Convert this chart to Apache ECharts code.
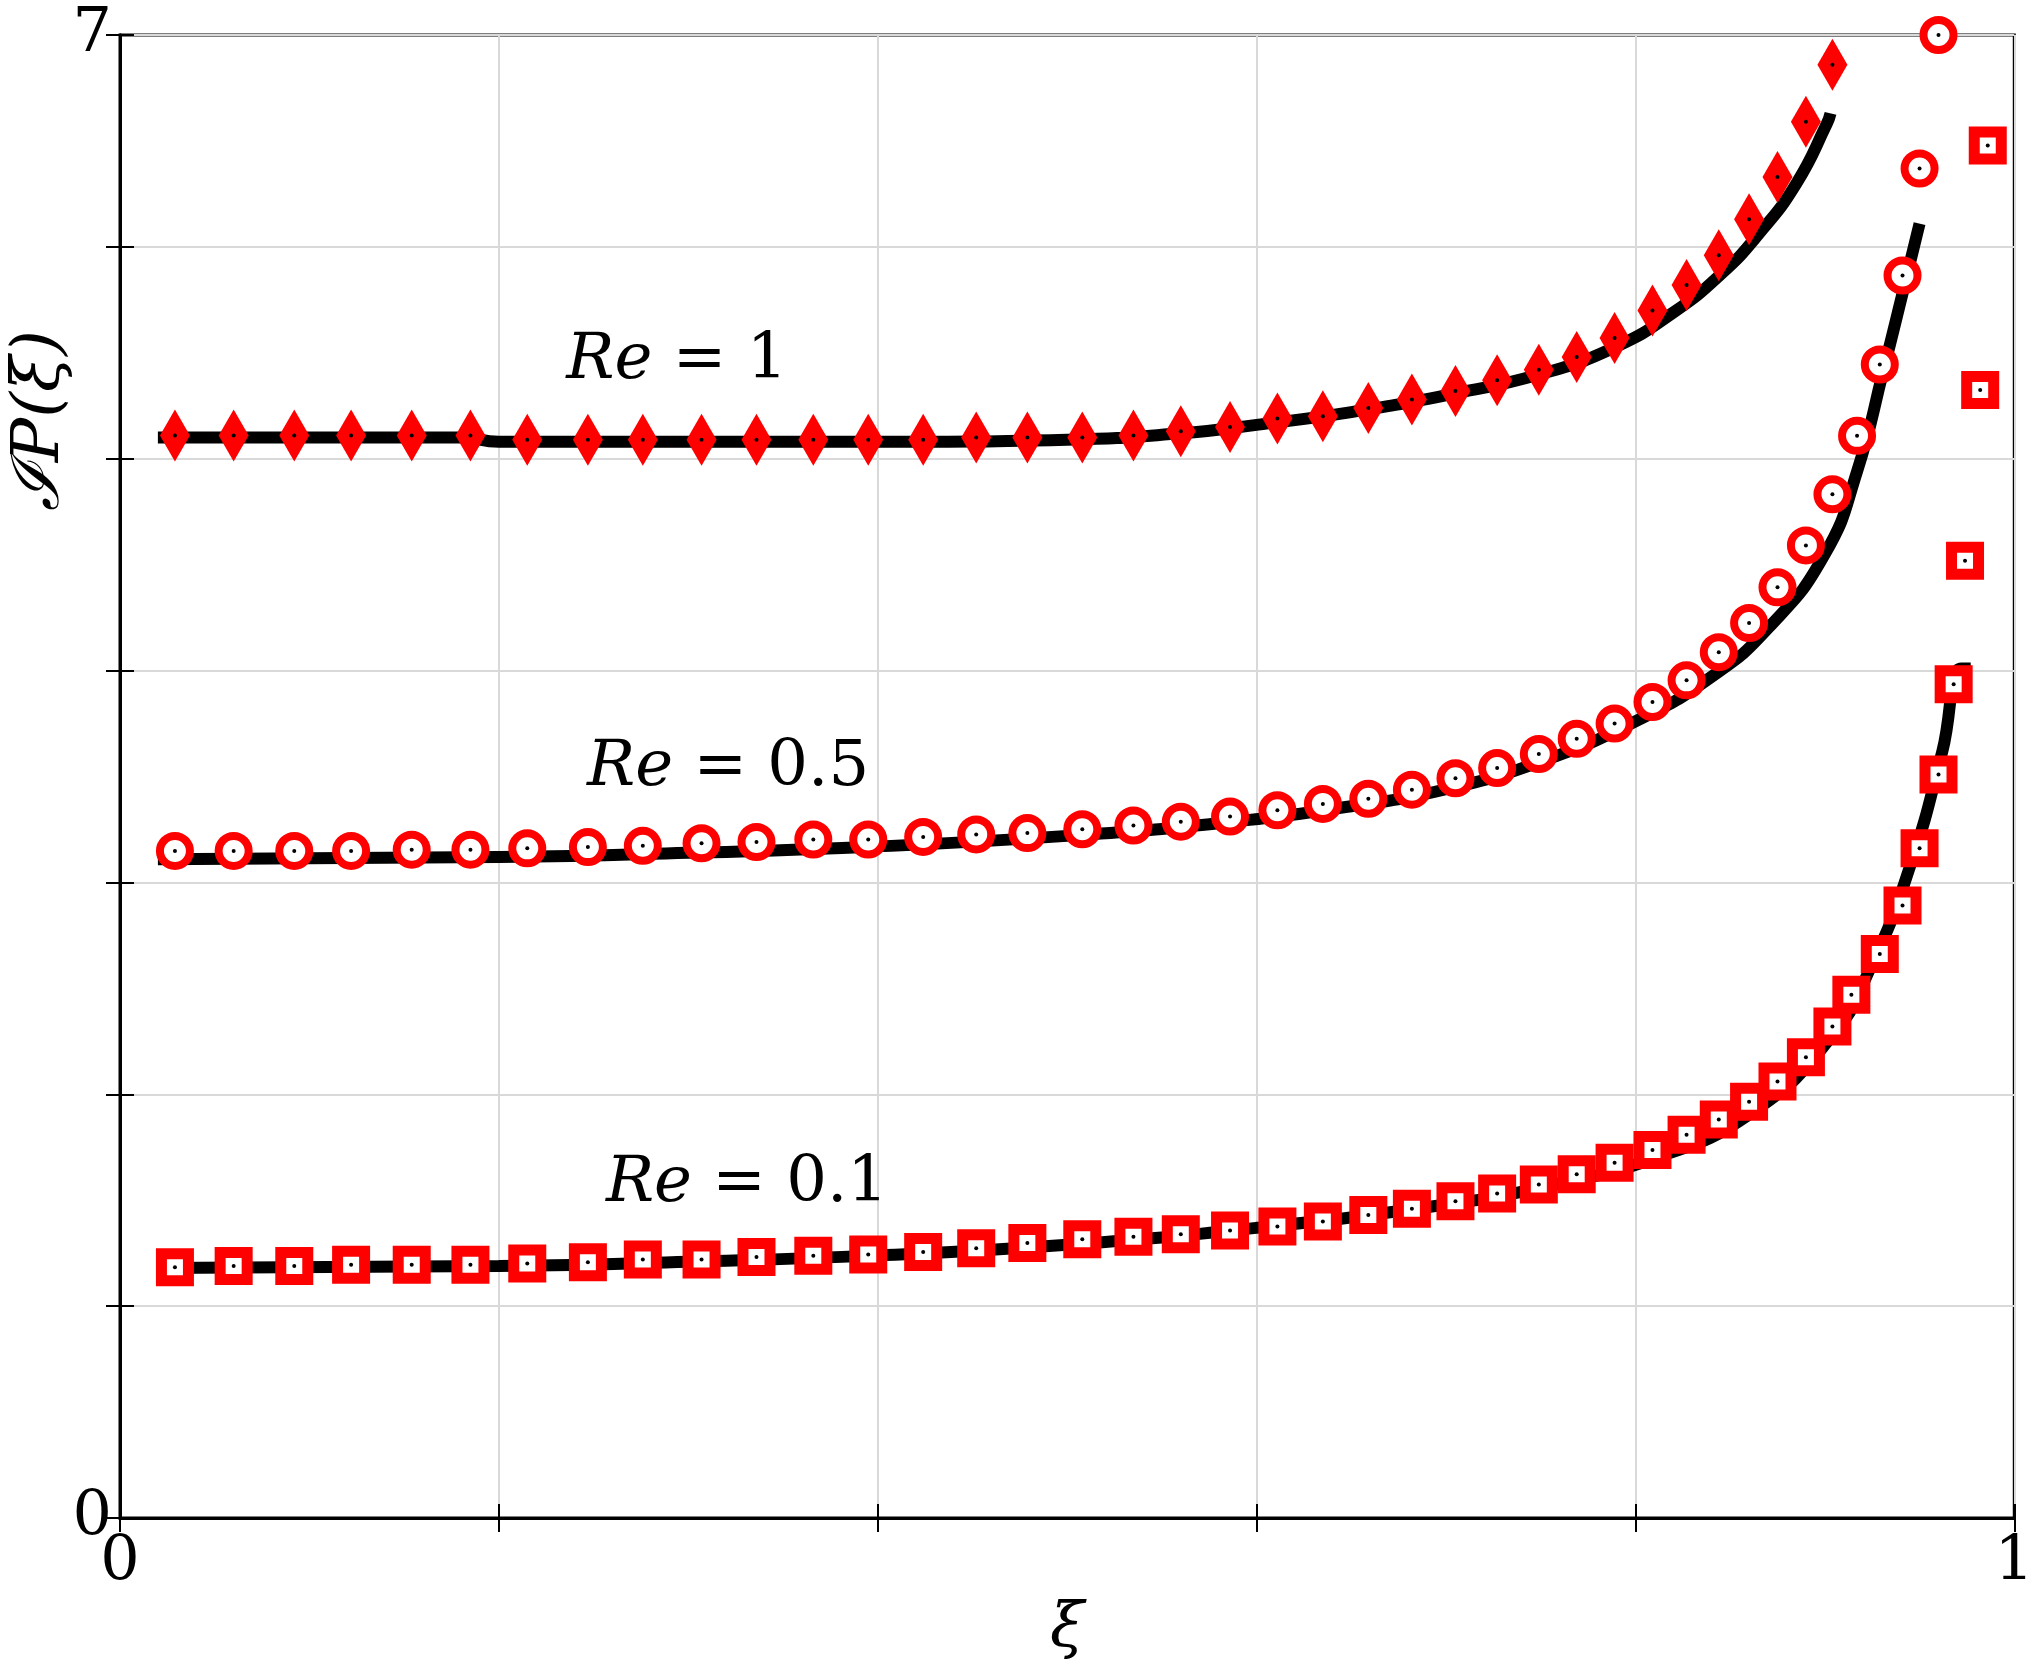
<!DOCTYPE html>
<html>
<head>
<meta charset="utf-8">
<script src="https://cdn.jsdelivr.net/npm/echarts@6/dist/echarts.min.js"></script>
<style>
html, body { margin: 0; padding: 0; background: #fff; }
#grafica { width: 2037px; height: 1666px; }
</style>
</head>
<body>
<div id="grafica"></div>
<script>
// posiciones xi de los marcadores
var xiMarcas = [0.029, 0.060, 0.092, 0.122, 0.154, 0.185, 0.215, 0.247, 0.276, 0.307,
    0.336, 0.366, 0.395, 0.424, 0.452, 0.479, 0.508, 0.535, 0.560, 0.586,
    0.611, 0.635, 0.659, 0.682, 0.705, 0.727, 0.749, 0.769, 0.789, 0.809,
    0.827, 0.844, 0.860, 0.875, 0.890, 0.904];
var xiExtra05 = [0.917, 0.929, 0.941, 0.950, 0.960];
var xiExtra01 = [0.914, 0.929, 0.941, 0.950, 0.960, 0.968, 0.974, 0.982, 0.986];

// valores de los marcadores
var re1Marcas = [5.11, 5.11, 5.11, 5.11, 5.11, 5.11, 5.09, 5.09, 5.09, 5.09,
    5.09, 5.09, 5.09, 5.09, 5.10, 5.10, 5.10, 5.11, 5.13, 5.15,
    5.19, 5.20, 5.24, 5.28, 5.32, 5.37, 5.42, 5.48, 5.57, 5.70,
    5.82, 5.96, 6.13, 6.33, 6.59, 6.86];
var re05Marcas = [3.149, 3.149, 3.149, 3.149, 3.155, 3.155, 3.161, 3.167, 3.173, 3.185,
    3.191, 3.203, 3.203, 3.215, 3.227, 3.233, 3.251, 3.269, 3.287, 3.311,
    3.341, 3.371, 3.395, 3.438, 3.492, 3.540, 3.606, 3.678, 3.750, 3.852,
    3.954, 4.087, 4.225, 4.393, 4.591, 4.832, 5.108, 5.445, 5.865, 6.370, 7.0];
var re01Marcas = [1.184, 1.190, 1.190, 1.196, 1.196, 1.196, 1.202, 1.208, 1.220, 1.220,
    1.232, 1.238, 1.244, 1.256, 1.274, 1.298, 1.316, 1.328, 1.340, 1.358,
    1.376, 1.400, 1.430, 1.460, 1.496, 1.532, 1.575, 1.623, 1.677, 1.737,
    1.809, 1.881, 1.965, 2.061, 2.175, 2.320, 2.470, 2.662, 2.891, 3.161,
    3.510, 3.936, 4.519, 5.325, 6.478];

// curvas continuas (xi, valor)
var re1Linea = [[0.02, 5.10], [0.18, 5.10], [0.20, 5.08], [0.40, 5.08], [0.50, 5.09], [0.56, 5.12],
    [0.60, 5.16], [0.65, 5.22], [0.70, 5.30], [0.75, 5.40], [0.79, 5.53], [0.82, 5.69],
    [0.845, 5.87], [0.865, 6.06], [0.885, 6.30], [0.901, 6.58], [0.903, 6.63]];
var re05Linea = [[0.02, 3.11], [0.20, 3.12], [0.30, 3.14], [0.40, 3.17], [0.50, 3.22], [0.58, 3.28],
    [0.65, 3.36], [0.70, 3.44], [0.75, 3.57], [0.80, 3.76], [0.84, 3.97], [0.87, 4.20],
    [0.90, 4.55], [0.917, 4.94], [0.931, 5.42], [0.941, 5.78], [0.950, 6.11]];
var re01Linea = [[0.02, 1.18], [0.20, 1.19], [0.30, 1.21], [0.40, 1.24], [0.50, 1.29], [0.60, 1.37],
    [0.70, 1.48], [0.75, 1.56], [0.809, 1.695], [0.86, 1.905], [0.903, 2.266], [0.924, 2.596],
    [0.945, 3.077], [0.962, 3.618], [0.972, 4.01], [0.977, 4.01]];

var etiquetas = [
    { texto: '1', x: 0.294, y: 5.46 },
    { texto: '0.5', x: 0.321, y: 3.54 },
    { texto: '0.1', x: 0.331, y: 1.575 }
];

function pares(xs, ys) {
    var r = [];
    ys.forEach(function (v, i) { r.push([xs[i], v]); });
    return r;
}

var datosRe1 = pares(xiMarcas, re1Marcas);
var datosRe05 = pares(xiMarcas.concat(xiExtra05), re05Marcas);
var datosRe01 = pares(xiMarcas.concat(xiExtra01), re01Marcas);

var fuente = 'DejaVu Serif';
var grafico = echarts.init(document.getElementById('grafica'));

function linea(datos) {
    return { type: 'line', data: datos, smooth: true, symbol: 'none', z: 2,
        lineStyle: { color: '#000', width: 12 } };
}
function puntos(datos) {
    return { type: 'scatter', data: datos, symbol: 'circle', symbolSize: 4, z: 5,
        itemStyle: { color: '#000', opacity: 1 } };
}

var option = {
    animation: false,
    backgroundColor: '#fff',
    grid: { left: 120, right: 21, top: 35, bottom: 106, show: true, borderColor: '#000', borderWidth: 3 },
    xAxis: [
        { type: 'value', min: 0, max: 1, interval: 0.2,
          axisLine: { show: true, lineStyle: { color: '#000', width: 3 } },
          axisTick: { inside: true, length: 14, lineStyle: { color: '#000', width: 2 } },
          splitLine: { lineStyle: { color: '#d9d9d9', width: 2 } },
          axisLabel: { fontFamily: fuente, fontSize: 62, color: '#000', margin: 14,
              formatter: function (v) { return (v === 0 || v === 1) ? String(v) : ''; } },
          name: 'ξ', nameLocation: 'middle', nameGap: 55,
          nameTextStyle: { fontFamily: fuente, fontSize: 62, fontStyle: 'italic', color: '#000' } },
        { type: 'value', position: 'top', min: 0, max: 1, interval: 0.2,
          axisLine: { show: true, lineStyle: { color: '#000', width: 3 } },
          axisTick: { inside: true, length: 14, lineStyle: { color: '#000', width: 2 } },
          axisLabel: { show: false }, splitLine: { show: false } }
    ],
    yAxis: [
        { type: 'value', min: 0, max: 7, interval: 1,
          axisLine: { show: true, lineStyle: { color: '#000', width: 3 } },
          axisTick: { inside: true, length: 14, lineStyle: { color: '#000', width: 2 } },
          splitLine: { lineStyle: { color: '#d9d9d9', width: 2 } },
          axisLabel: { fontFamily: fuente, fontSize: 62, color: '#000', margin: 8,
              formatter: function (v) { return (v === 0 || v === 7) ? String(v) : ''; } } },
        { type: 'value', position: 'right', min: 0, max: 7, interval: 1,
          axisLine: { show: true, lineStyle: { color: '#000', width: 3 } },
          axisTick: { inside: true, length: 14, lineStyle: { color: '#000', width: 2 } },
          axisLabel: { show: false }, splitLine: { show: false } }
    ],
    graphic: [{
        type: 'text', left: 8, top: 330, rotation: Math.PI / 2,
        style: { text: 'ℐP(ξ)', fontFamily: fuente, fontSize: 66, fontStyle: 'italic', fill: '#000' }
    }],
    series: [
        linea(re1Linea), linea(re05Linea), linea(re01Linea),
        { type: 'scatter', data: datosRe1, symbol: 'diamond', symbolSize: [30, 52], z: 4,
          itemStyle: { color: '#ff0000', opacity: 1 } },
        { type: 'scatter', data: datosRe05, symbol: 'circle', symbolSize: 30, z: 4,
          itemStyle: { color: '#fff', borderColor: '#ff0000', borderWidth: 8, opacity: 1 } },
        { type: 'scatter', data: datosRe01, symbol: 'rect', symbolSize: 27, z: 4,
          itemStyle: { color: '#fff', borderColor: '#ff0000', borderWidth: 11, opacity: 1 } },
        puntos(datosRe1), puntos(datosRe05), puntos(datosRe01),
        { type: 'scatter', symbolSize: 0, z: 6,
          itemStyle: { opacity: 1 },
          data: etiquetas.map(function (e) { return { value: [e.x, e.y], name: e.texto }; }),
          label: { show: true, position: 'inside', color: '#000', fontFamily: fuente, fontSize: 64,
              formatter: function (p) { return '{i|Re} = ' + p.name; },
              rich: { i: { fontFamily: fuente, fontSize: 64, fontStyle: 'italic', color: '#000' } } } }
    ]
};

grafico.setOption(option);
</script>
</body>
</html>
